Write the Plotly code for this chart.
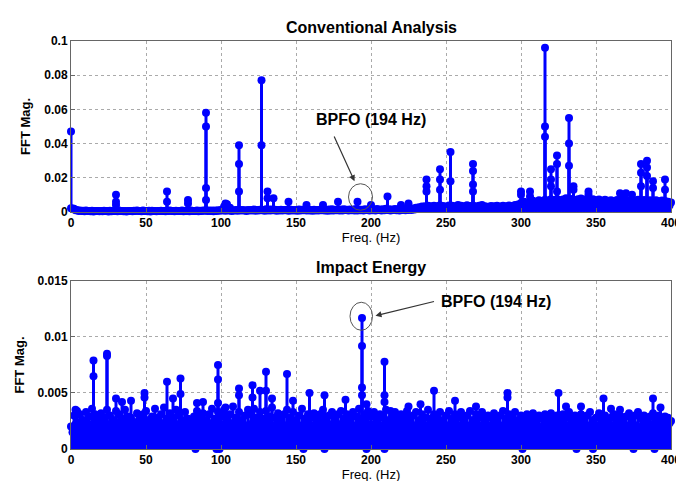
import plotly.graph_objects as go
from plotly.subplots import make_subplots

# ---------------- data ----------------
# noise floor, even bins (0..400 Hz) and odd bins (1..399 Hz)
noise_freqs = list(range(0, 401, 2))
noise_freqs_odd = list(range(1, 400, 2))

noise_top = [
    0.0022, 0.0018, 0.0012, 0.0009, 0.0007, 0.0008, 0.0006, 0.0007, 0.0006, 0.0005,
    0.0006, 0.0007, 0.0005, 0.0007, 0.0006, 0.0006, 0.0008, 0.0006, 0.0005, 0.0006,
    0.0006, 0.0007, 0.0009, 0.0006, 0.0008, 0.0006, 0.0007, 0.0007, 0.0005, 0.0006,
    0.0007, 0.0006, 0.0009, 0.0008, 0.0006, 0.0007, 0.0006, 0.0008, 0.0006, 0.0007,
    0.0008, 0.0006, 0.0009, 0.0007, 0.0008, 0.0010, 0.0008, 0.0009, 0.0008, 0.0010,
    0.0012, 0.0030, 0.0045, 0.0025, 0.0009, 0.0011, 0.0013, 0.0012, 0.0010, 0.0011,
    0.0012, 0.0014, 0.0012, 0.0013, 0.0011, 0.0016, 0.0014, 0.0015, 0.0013, 0.0012,
    0.0013, 0.0011, 0.0013, 0.0015, 0.0012, 0.0011, 0.0014, 0.0013, 0.0011, 0.0014,
    0.0012, 0.0013, 0.0011, 0.0013, 0.0015, 0.0012, 0.0014, 0.0016, 0.0013, 0.0015,
    0.0014, 0.0016, 0.0013, 0.0015, 0.0014, 0.0017, 0.0015, 0.0013, 0.0016, 0.0014,
    0.0016, 0.0015, 0.0017, 0.0014, 0.0016, 0.0018, 0.0016, 0.0015, 0.0017, 0.0016,
    0.0018, 0.0016, 0.0019, 0.0017, 0.0020, 0.0024, 0.0028, 0.0032, 0.0034, 0.0036,
    0.0033, 0.0037, 0.0034, 0.0039, 0.0035, 0.0032, 0.0038, 0.0036, 0.0033, 0.0040,
    0.0037, 0.0034, 0.0039, 0.0035, 0.0038, 0.0032, 0.0036, 0.0041, 0.0034, 0.0031,
    0.0035, 0.0033, 0.0037, 0.0032, 0.0036, 0.0034, 0.0038, 0.0035, 0.0040, 0.0044,
    0.0052, 0.0060, 0.0054, 0.0062, 0.0066, 0.0058, 0.0068, 0.0064, 0.0072, 0.0066,
    0.0074, 0.0069, 0.0076, 0.0068, 0.0073, 0.0080, 0.0072, 0.0076, 0.0069, 0.0074,
    0.0078, 0.0071, 0.0076, 0.0070, 0.0075, 0.0068, 0.0073, 0.0066, 0.0071, 0.0065,
    0.0068, 0.0063, 0.0070, 0.0066, 0.0072, 0.0065, 0.0069, 0.0064, 0.0067, 0.0071,
    0.0066, 0.0070, 0.0063, 0.0068, 0.0065, 0.0069, 0.0062, 0.0067, 0.0064, 0.0060,
    0.0055,
]

noise_top_odd = [
    0.0020, 0.0010, 0.0006, 0.0005, 0.0004, 0.0005, 0.0004, 0.0003, 0.0005, 0.0004,
    0.0004, 0.0005, 0.0003, 0.0004, 0.0005, 0.0004, 0.0006, 0.0004, 0.0003, 0.0005,
    0.0004, 0.0005, 0.0006, 0.0004, 0.0005, 0.0004, 0.0003, 0.0005, 0.0004, 0.0006,
    0.0005, 0.0004, 0.0006, 0.0005, 0.0004, 0.0005, 0.0006, 0.0004, 0.0005, 0.0004,
    0.0005, 0.0006, 0.0004, 0.0005, 0.0007, 0.0005, 0.0006, 0.0004, 0.0006, 0.0007,
    0.0008, 0.0007, 0.0009, 0.0006, 0.0008, 0.0007, 0.0009, 0.0008, 0.0006, 0.0008,
    0.0009, 0.0007, 0.0008, 0.0010, 0.0007, 0.0009, 0.0008, 0.0010, 0.0007, 0.0009,
    0.0008, 0.0010, 0.0007, 0.0009, 0.0008, 0.0007, 0.0009, 0.0010, 0.0008, 0.0009,
    0.0007, 0.0009, 0.0008, 0.0010, 0.0009, 0.0007, 0.0009, 0.0008, 0.0010, 0.0008,
    0.0009, 0.0011, 0.0008, 0.0010, 0.0009, 0.0008, 0.0010, 0.0009, 0.0011, 0.0008,
    0.0010, 0.0009, 0.0011, 0.0008, 0.0010, 0.0012, 0.0009, 0.0011, 0.0010, 0.0009,
    0.0011, 0.0010, 0.0012, 0.0011, 0.0014, 0.0017, 0.0020, 0.0023, 0.0025, 0.0024,
    0.0026, 0.0023, 0.0027, 0.0025, 0.0022, 0.0026, 0.0024, 0.0028, 0.0025, 0.0023,
    0.0027, 0.0024, 0.0026, 0.0023, 0.0028, 0.0025, 0.0022, 0.0026, 0.0024, 0.0027,
    0.0023, 0.0026, 0.0024, 0.0027, 0.0025, 0.0023, 0.0026, 0.0028, 0.0030, 0.0034,
    0.0038, 0.0042, 0.0040, 0.0045, 0.0041, 0.0047, 0.0044, 0.0048, 0.0043, 0.0049,
    0.0046, 0.0050, 0.0045, 0.0051, 0.0047, 0.0052, 0.0048, 0.0050, 0.0046, 0.0053,
    0.0049, 0.0052, 0.0047, 0.0050, 0.0046, 0.0049, 0.0045, 0.0048, 0.0044, 0.0047,
    0.0045, 0.0049, 0.0046, 0.0050, 0.0044, 0.0048, 0.0045, 0.0047, 0.0049, 0.0046,
    0.0048, 0.0044, 0.0047, 0.0045, 0.0049, 0.0043, 0.0046, 0.0044, 0.0041, 0.0038,
]

noise_bottom = [
    0.0020, 0.0030, 0.0034, 0.0031, 0.0026, 0.0033, 0.0029, 0.0036, 0.0031, 0.0027,
    0.0032, 0.0028, 0.0035, 0.0030, 0.0026, 0.0034, 0.0031, 0.0027, 0.0035, 0.0029,
    0.0028, 0.0024, 0.0032, 0.0027, 0.0031, 0.0034, 0.0026, 0.0029, 0.0036, 0.0028,
    0.0031, 0.0037, 0.0027, 0.0032, 0.0028, 0.0035, 0.0030, 0.0026, 0.0033, 0.0027,
    0.0024, 0.0029, 0.0034, 0.0028, 0.0032, 0.0026, 0.0031, 0.0036, 0.0027, 0.0033,
    0.0029, 0.0035, 0.0027, 0.0031, 0.0038, 0.0028, 0.0033, 0.0026, 0.0030, 0.0035,
    0.0031, 0.0036, 0.0028, 0.0033, 0.0027, 0.0034, 0.0029, 0.0037, 0.0028, 0.0032,
    0.0027, 0.0031, 0.0035, 0.0028, 0.0033, 0.0026, 0.0030, 0.0036, 0.0027, 0.0031,
    0.0028, 0.0032, 0.0027, 0.0031, 0.0035, 0.0026, 0.0030, 0.0033, 0.0028, 0.0031,
    0.0034, 0.0027, 0.0031, 0.0028, 0.0033, 0.0029, 0.0036, 0.0027, 0.0031, 0.0034,
    0.0029, 0.0033, 0.0027, 0.0031, 0.0028, 0.0035, 0.0026, 0.0030, 0.0033, 0.0027,
    0.0031, 0.0028, 0.0034, 0.0027, 0.0030, 0.0033, 0.0026, 0.0031, 0.0028, 0.0035,
    0.0027, 0.0031, 0.0028, 0.0033, 0.0026, 0.0030, 0.0034, 0.0027, 0.0031, 0.0028,
    0.0033, 0.0027, 0.0030, 0.0034, 0.0026, 0.0031, 0.0028, 0.0033, 0.0027, 0.0030,
    0.0028, 0.0032, 0.0026, 0.0030, 0.0034, 0.0027, 0.0031, 0.0028, 0.0033, 0.0026,
    0.0030, 0.0027, 0.0031, 0.0028, 0.0032, 0.0026, 0.0030, 0.0027, 0.0031, 0.0028,
    0.0032, 0.0027, 0.0030, 0.0026, 0.0031, 0.0028, 0.0033, 0.0027, 0.0030, 0.0026,
    0.0031, 0.0027, 0.0030, 0.0033, 0.0026, 0.0028, 0.0032, 0.0027, 0.0030, 0.0026,
    0.0028, 0.0031, 0.0027, 0.0030, 0.0026, 0.0029, 0.0032, 0.0027, 0.0030, 0.0033,
    0.0027, 0.0030, 0.0026, 0.0029, 0.0032, 0.0027, 0.0030, 0.0026, 0.0029, 0.0028,
    0.0025,
]

noise_bottom_odd = [
    0.0015, 0.0022, 0.0019, 0.0025, 0.0018, 0.0023, 0.0020, 0.0017, 0.0024, 0.0021,
    0.0019, 0.0023, 0.0016, 0.0021, 0.0025, 0.0018, 0.0022, 0.0020, 0.0017, 0.0024,
    0.0021, 0.0018, 0.0023, 0.0020, 0.0016, 0.0022, 0.0019, 0.0025, 0.0018, 0.0021,
    0.0023, 0.0017, 0.0020, 0.0024, 0.0019, 0.0022, 0.0016, 0.0021, 0.0018, 0.0023,
    0.0020, 0.0024, 0.0018, 0.0022, 0.0019, 0.0017, 0.0023, 0.0020, 0.0025, 0.0018,
    0.0022, 0.0019, 0.0016, 0.0023, 0.0020, 0.0018, 0.0024, 0.0021, 0.0017, 0.0022,
    0.0019, 0.0023, 0.0020, 0.0017, 0.0022, 0.0025, 0.0018, 0.0021, 0.0019, 0.0023,
    0.0020, 0.0016, 0.0022, 0.0019, 0.0024, 0.0018, 0.0021, 0.0017, 0.0023, 0.0020,
    0.0018, 0.0022, 0.0019, 0.0024, 0.0017, 0.0021, 0.0020, 0.0023, 0.0018, 0.0022,
    0.0020, 0.0017, 0.0023, 0.0019, 0.0021, 0.0018, 0.0024, 0.0020, 0.0016, 0.0022,
    0.0019, 0.0023, 0.0018, 0.0021, 0.0017, 0.0022, 0.0020, 0.0024, 0.0018, 0.0021,
    0.0023, 0.0019, 0.0016, 0.0022, 0.0020, 0.0018, 0.0024, 0.0021, 0.0017, 0.0022,
    0.0019, 0.0023, 0.0020, 0.0017, 0.0022, 0.0018, 0.0021, 0.0024, 0.0019, 0.0020,
    0.0022, 0.0018, 0.0021, 0.0016, 0.0023, 0.0020, 0.0019, 0.0022, 0.0017, 0.0021,
    0.0020, 0.0023, 0.0018, 0.0021, 0.0019, 0.0024, 0.0017, 0.0022, 0.0020, 0.0018,
    0.0021, 0.0019, 0.0023, 0.0017, 0.0022, 0.0020, 0.0018, 0.0021, 0.0024, 0.0019,
    0.0022, 0.0018, 0.0020, 0.0023, 0.0017, 0.0021, 0.0019, 0.0022, 0.0018, 0.0020,
    0.0023, 0.0019, 0.0021, 0.0017, 0.0022, 0.0020, 0.0018, 0.0024, 0.0019, 0.0021,
    0.0018, 0.0022, 0.0020, 0.0023, 0.0017, 0.0021, 0.0019, 0.0022, 0.0020, 0.0018,
    0.0021, 0.0023, 0.0019, 0.0022, 0.0018, 0.0020, 0.0024, 0.0019, 0.0021, 0.0023,
]

# prominent spectral lines (repeated frequency = neighbouring bins on same stem)
peak_freqs_top = [0, 30, 30, 30, 64, 64, 78, 78, 90, 90, 90, 90, 103, 112, 112, 112,
                  127, 127, 131, 131, 135, 145, 157, 168, 178, 191, 200, 211, 220, 225,
                  237, 237, 237, 246, 246, 246, 253, 253, 268, 268, 268, 268,
                  300, 300, 306, 306, 316, 316, 316, 320, 320, 320, 324, 324, 324,
                  332, 332, 332, 335, 335, 345, 345, 366, 370, 374,
                  380, 380, 380, 384, 384, 384, 388, 388, 396, 396]
peak_vals_top = [0.047, 0.010, 0.006, 0.004, 0.012, 0.006, 0.007, 0.005,
                 0.058, 0.050, 0.014, 0.007, 0.005, 0.039, 0.028, 0.012,
                 0.077, 0.039, 0.012, 0.008, 0.008, 0.006, 0.004, 0.004, 0.006, 0.006,
                 0.004, 0.009, 0.004, 0.005,
                 0.019, 0.015, 0.012, 0.025, 0.019, 0.013, 0.035, 0.018,
                 0.028, 0.024, 0.016, 0.012,
                 0.012, 0.010, 0.012, 0.009, 0.096, 0.050, 0.044, 0.025, 0.019, 0.015,
                 0.033, 0.028, 0.012, 0.055, 0.040, 0.027, 0.015, 0.013, 0.012, 0.010,
                 0.011, 0.011, 0.010,
                 0.028, 0.023, 0.015, 0.030, 0.026, 0.021, 0.018, 0.014, 0.019, 0.013]

peak_freqs_bottom = [3, 15, 15, 24, 24, 30, 34, 40, 49, 49, 64, 68, 73, 73, 84, 88,
                     98, 98, 98, 103, 112, 112, 121, 121, 126, 130, 130, 134, 144, 148,
                     159, 169, 183, 194, 194, 194, 194, 197, 209, 209, 209, 213, 225,
                     233, 242, 256, 270, 291, 291, 325, 330, 340, 355, 360, 366, 388, 393]
peak_vals_bottom = [0.0035, 0.0079, 0.0065, 0.0085, 0.0083, 0.0045, 0.0042, 0.0043,
                    0.0050, 0.0046, 0.0060, 0.0045, 0.0063, 0.0049, 0.0041, 0.0042,
                    0.0075, 0.0062, 0.0041, 0.0037, 0.0054, 0.0048, 0.0057, 0.0046,
                    0.0052, 0.0069, 0.0052, 0.0045, 0.0067, 0.0043,
                    0.0050, 0.0048, 0.0044, 0.0117, 0.0092, 0.0055, 0.0048, 0.0040,
                    0.0078, 0.0048, 0.0042, 0.0034, 0.0038,
                    0.0040, 0.0052, 0.0043, 0.0038, 0.0050, 0.0046, 0.0050, 0.0038,
                    0.0038, 0.0045, 0.0036, 0.0035, 0.0045, 0.0037]

zero_bins_bottom = [83, 97, 99, 155, 169, 197, 209, 301, 337, 348, 375, 389]

titles = ["Conventional Analysis", "Impact Energy"]
BLUE = "#0000FF"
FONT = "Arial, Liberation Sans, sans-serif"

fig = make_subplots(rows=2, cols=1, vertical_spacing=0.17)


def add_stems(freqs, vals, row):
    xs, ys = [], []
    for f, v in zip(freqs, vals):
        xs += [f, f, None]
        ys += [0, v, None]
    fig.add_trace(go.Scatter(x=xs, y=ys, mode="lines",
                             line=dict(color=BLUE, width=3),
                             hoverinfo="skip", showlegend=False), row=row, col=1)
    fig.add_trace(go.Scatter(x=freqs, y=vals, mode="markers",
                             marker=dict(color=BLUE, size=8),
                             cliponaxis=False, showlegend=False), row=row, col=1)


add_stems(noise_freqs_odd, noise_top_odd, 1)
add_stems(noise_freqs, noise_top, 1)
add_stems(peak_freqs_top, peak_vals_top, 1)
add_stems(noise_freqs_odd, noise_bottom_odd, 2)
add_stems(noise_freqs, noise_bottom, 2)
add_stems(zero_bins_bottom, [0] * len(zero_bins_bottom), 2)
add_stems(peak_freqs_bottom, peak_vals_bottom, 2)

axis_common = dict(showline=True, linecolor="#666", mirror=True, ticks="inside",
                   ticklen=4, tickcolor="#666", showgrid=True, gridcolor="#aaa",
                   griddash="dot", gridwidth=1, zeroline=False, automargin=False,
                   tickfont=dict(family=FONT, size=12, color="black", weight="bold"))

for r in (1, 2):
    fig.update_xaxes(range=[0, 400], dtick=50, **axis_common,
                     title=dict(text="Freq. (Hz)", standoff=0,
                                font=dict(family=FONT, size=13, color="black")),
                     row=r, col=1)
fig.update_yaxes(range=[0, 0.1], dtick=0.02, **axis_common,
                 title=dict(text="FFT Mag.", standoff=10,
                            font=dict(family=FONT, size=13, color="black", weight="bold")),
                 row=1, col=1)
fig.update_yaxes(range=[0, 0.015], dtick=0.005, **axis_common,
                 title=dict(text="FFT Mag.", standoff=10,
                            font=dict(family=FONT, size=13, color="black", weight="bold")),
                 row=2, col=1)

fig.update_layout(
    width=684, height=481,
    margin=dict(l=63, r=21, t=33, b=40),
    paper_bgcolor="white", plot_bgcolor="white",
    font=dict(family=FONT, color="black"),
    yaxis=dict(domain=[0.581, 1.0]),
    yaxis2=dict(domain=[0.0, 0.4118]),
)

# titles
for i, (t, yd) in enumerate([(titles[0], "y domain"), (titles[1], "y2 domain")]):
    fig.add_annotation(text=t, xref="x domain" if i == 0 else "x2 domain", yref=yd,
                       x=0.5, y=1.0, yanchor="bottom", yshift=3, showarrow=False,
                       font=dict(family=FONT, size=16, color="black", weight="bold"))

# BPFO annotations
fig.add_annotation(x=189, y=0.018, ax=175, ay=0.045, xref="x", yref="y",
                   axref="x", ayref="y", text="", showarrow=True,
                   arrowhead=2, arrowsize=1, arrowwidth=1.2, arrowcolor="#333")
fig.add_annotation(x=200, y=0.054, xref="x", yref="y", text="BPFO (194 Hz)",
                   showarrow=False,
                   font=dict(family=FONT, size=16, color="black", weight="bold"))
fig.add_shape(type="circle", xref="x", yref="y", x0=185, x1=201, y0=0.001, y1=0.0165,
              line=dict(color="#555", width=1))

fig.add_annotation(x=203, y=0.0119, ax=243, ay=0.0132, xref="x2", yref="y2",
                   axref="x2", ayref="y2", text="", showarrow=True,
                   arrowhead=2, arrowsize=1, arrowwidth=1.2, arrowcolor="#333")
fig.add_annotation(x=245, y=0.0132, xref="x2", yref="y2", text="BPFO (194 Hz)",
                   xanchor="left", showarrow=False,
                   font=dict(family=FONT, size=16, color="black", weight="bold"))
fig.add_shape(type="circle", xref="x2", yref="y2", x0=186, x1=201, y0=0.0106, y1=0.0131,
              line=dict(color="#555", width=1))

fig.write_html("out.html")
